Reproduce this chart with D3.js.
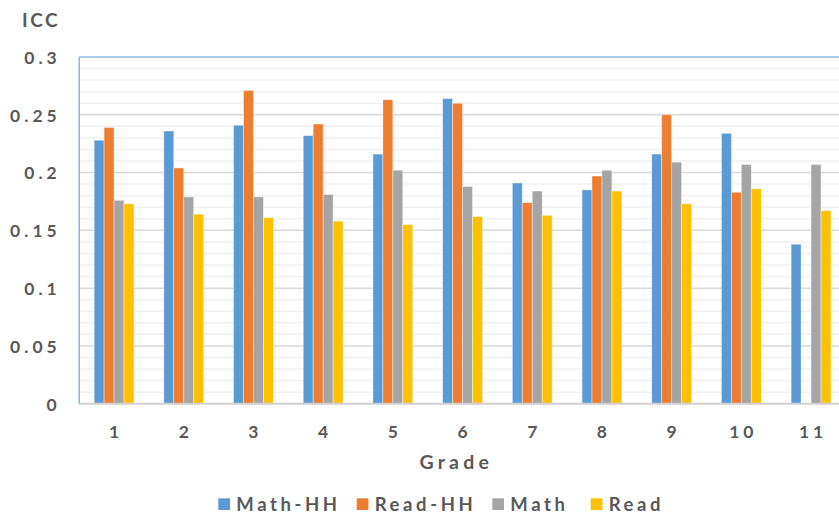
<!DOCTYPE html>
<html><head><meta charset="utf-8">
<script src="https://cdn.jsdelivr.net/npm/d3@7"></script>
<style>
html,body{margin:0;padding:0;background:#fff;overflow:hidden}
text{font-family:Lato,"Liberation Sans",Arial,sans-serif;font-weight:bold;fill:#595959}
</style></head><body>
<svg id="c" width="839" height="514"></svg>
<script>
const grades = ["1","2","3","4","5","6","7","8","9","10","11"];
const seriesNames = ["Math-HH","Read-HH","Math","Read"];
const mathHH = [0.228,0.236,0.241,0.232,0.216,0.264,0.191,0.185,0.216,0.234,0.138];
const readHH = [0.239,0.204,0.271,0.242,0.263,0.260,0.174,0.197,0.250,0.183,null];
const math   = [0.176,0.179,0.179,0.181,0.202,0.188,0.184,0.202,0.209,0.207,0.207];
const read   = [0.173,0.164,0.161,0.158,0.155,0.162,0.163,0.184,0.173,0.186,0.167];
const yTicks = [0,0.05,0.1,0.15,0.2,0.25,0.3];
const yTickLabels = ["0","0.05","0.1","0.15","0.2","0.25","0.3"];
const colors = ["#5B9BD5","#ED7D31","#A5A5A5","#FFC000"];

const seriesValues = [mathHH, readHH, math, read];
const FONT = 'Lato,"Liberation Sans",Arial,sans-serif';
const svg = d3.select("#c");
const m = {left:79.2, top:57, plotW:766.7, plotH:346.7};
const g = svg.append("g").attr("transform",`translate(${m.left},${m.top})`);

const x0 = d3.scaleBand().domain(grades).range([0,m.plotW]).padding(0);
const bw = x0.bandwidth();
const barW = bw/7;
const x1 = d3.scaleBand().domain(seriesNames).range([1.5*barW,5.5*barW]).padding(0);
const y = d3.scaleLinear().domain([0,0.3]).range([m.plotH,0]);

// minor gridlines
const minor = d3.range(1,30).map(i=>i/100).filter(v=>Math.round(v*100)%5!==0);
g.append("g").selectAll("line").data(minor).join("line")
  .attr("x1",0).attr("x2",m.plotW+20).attr("y1",d=>y(d)).attr("y2",d=>y(d))
  .attr("stroke","#f0f0f0").attr("stroke-width",1.5);
// major gridlines
g.append("g").selectAll("line").data(yTicks.slice(1,-1)).join("line")
  .attr("x1",0).attr("x2",m.plotW+20).attr("y1",d=>y(d)).attr("y2",d=>y(d))
  .attr("stroke","#d9d9d9").attr("stroke-width",1.5);

// bars
const flat = [];
grades.forEach((gr,i)=>seriesNames.forEach((s,j)=>{
  const v = seriesValues[j][i];
  if(v!=null) flat.push({gr,s,v,c:colors[j]});
}));
g.append("g").selectAll("rect").data(flat).join("rect")
  .attr("x",d=>x0(d.gr)+x1(d.s)).attr("width",x1.bandwidth())
  .attr("y",d=>y(d.v)).attr("height",d=>m.plotH-y(d.v))
  .attr("fill",d=>d.c).attr("stroke","#fff").attr("stroke-opacity",0.5).attr("stroke-width",0.8);

// plot border (top & left)
g.append("line").attr("x1",0).attr("x2",m.plotW+20).attr("y1",0).attr("y2",0)
  .attr("stroke","#8fb6e0").attr("stroke-width",1.5);
g.append("line").attr("x1",0).attr("x2",0).attr("y1",0).attr("y2",m.plotH)
  .attr("stroke","#8fb6e0").attr("stroke-width",1.5);
// x axis line
g.append("line").attr("x1",-1).attr("x2",m.plotW+20).attr("y1",m.plotH).attr("y2",m.plotH)
  .attr("stroke","#d0d0d0").attr("stroke-width",2);

// y axis labels
const yAxis = d3.axisLeft(y).tickValues(yTicks).tickFormat((d,i)=>yTickLabels[i]).tickSize(0).tickPadding(0);
const ya = g.append("g").attr("transform","translate(-18.5,0)").call(yAxis);
ya.select(".domain").remove();
ya.selectAll("text").attr("font-size",17.5).attr("letter-spacing",4)
  .style("font-family",FONT).style("font-weight","bold").attr("fill","#595959")
  .attr("dy","0.36em");

// x axis labels
const xAxis = d3.axisBottom(x0).tickSize(0).tickPadding(0);
const xa = g.append("g").attr("transform",`translate(0,${m.plotH+34.5})`).call(xAxis);
xa.select(".domain").remove();
xa.selectAll("text").attr("font-size",17.5).attr("letter-spacing",4)
  .style("font-family",FONT).style("font-weight","bold").attr("fill","#595959")
  .attr("dx",2).attr("dy",0);

// titles
svg.append("text").attr("x",22).attr("y",27).attr("font-size",19).attr("letter-spacing",2.6).text("ICC");
svg.append("text").attr("x",419.5).attr("y",469).attr("font-size",19.5).attr("letter-spacing",4.2).text("Grade");

// legend
const legX = [218.3,356.7,492.3,590.7];
const lg = svg.append("g");
seriesNames.forEach((s,j)=>{
  lg.append("rect").attr("x",legX[j]).attr("y",498.3).attr("width",11.7).attr("height",11.7).attr("fill",colors[j]);
  lg.append("text").attr("x",legX[j]+18).attr("y",510.5).attr("font-size",18.5).attr("letter-spacing",3.6).text(s);
});
</script></body></html>
